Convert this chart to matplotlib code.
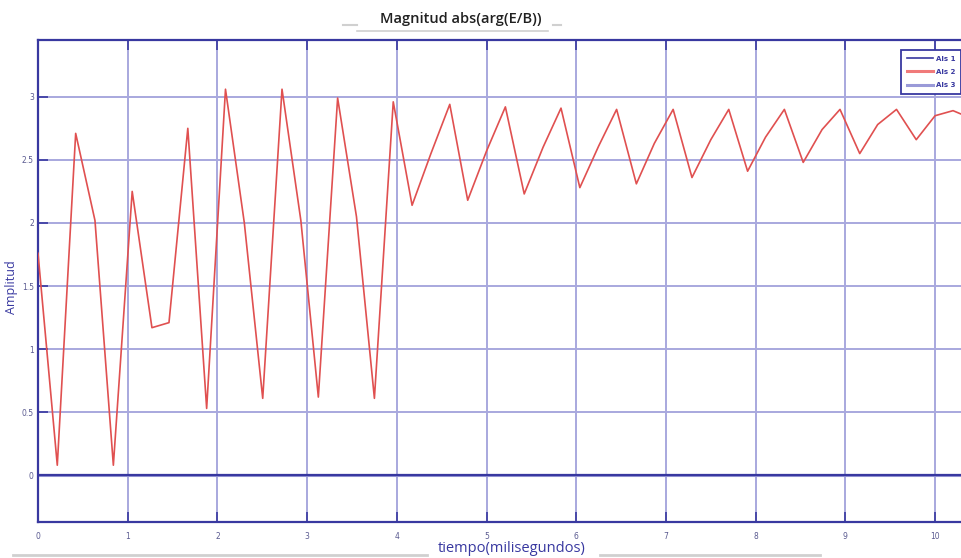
import numpy as np
import matplotlib
matplotlib.use("Agg")
import matplotlib.pyplot as plt
from matplotlib.lines import Line2D

# values
tiempo = [0, 0.215, 0.42, 0.635, 0.84, 1.05, 1.27, 1.46, 1.67, 1.88,
          2.09, 2.3, 2.505, 2.72, 2.93, 3.125, 3.34, 3.55, 3.75, 3.96,
          4.17, 4.38, 4.59, 4.79, 5.0, 5.21, 5.42, 5.63, 5.83, 6.04,
          6.25, 6.45, 6.67, 6.87, 7.08, 7.29, 7.5, 7.70, 7.91, 8.11,
          8.32, 8.53, 8.74, 8.94, 9.16, 9.36, 9.57, 9.79, 10.0, 10.2, 10.4]
als2 = [1.76, 0.08, 2.71, 2.02, 0.08, 2.25, 1.17, 1.21, 2.75, 0.53,
        3.06, 2.0, 0.61, 3.06, 2.02, 0.62, 2.99, 2.05, 0.61, 2.96,
        2.14, 2.55, 2.94, 2.18, 2.57, 2.92, 2.23, 2.6, 2.91, 2.28,
        2.61, 2.90, 2.31, 2.63, 2.90, 2.36, 2.66, 2.90, 2.41, 2.68,
        2.90, 2.48, 2.74, 2.90, 2.55, 2.78, 2.90, 2.66, 2.85, 2.89, 2.83]
als1 = [0.0] * len(tiempo)
als3 = [0.0] * len(tiempo)

x_ticks = list(range(0, 11))
y_ticks = [0, 0.5, 1, 1.5, 2, 2.5, 3]
y_tick_labels = ["0", "0.5", "1", "1.5", "2", "2.5", "3"]

navy = "#3838a0"
grid_col = "#a8a8de"
label_col = "#5a5a90"

W, H = 962, 558
fig = plt.figure(figsize=(W / 100, H / 100), dpi=100)
ax = fig.add_axes([38 / W, 1 - 522 / H, 1 - 38 / W, (522 - 40) / H])

ax.plot(tiempo, als3, color="#9a9ad8", lw=2.2, label="Als 3", zorder=2)
ax.plot(tiempo, als1, color=navy, lw=1.6, label="Als 1", zorder=3)
ax.plot(tiempo, als2, color="#e05050", lw=1.2, label="Als 2", zorder=4)

ax.set_xlim(0, 10.3)
ax.set_ylim(-0.37, 3.45)
ax.set_xticks(x_ticks)
ax.set_yticks(y_ticks)
ax.set_yticklabels(y_tick_labels)
ax.grid(True, color=grid_col, lw=1.4)
ax.set_axisbelow(True)

for side in ["left", "bottom", "top"]:
    ax.spines[side].set_color(navy)
    ax.spines[side].set_linewidth(1.6)
ax.spines["right"].set_visible(False)

ax.tick_params(axis="both", direction="in", length=7, width=1.2, color=navy,
               labelsize=5.5, labelcolor=label_col, top=True)
ax.tick_params(axis="x", pad=7)
ax.tick_params(axis="y", pad=3)

# legend in order Als 1, Als 2, Als 3
leg_handles = [Line2D([], [], color=navy, lw=1.2),
               Line2D([], [], color="#f07a7a", lw=2.2),
               Line2D([], [], color="#9a9ad8", lw=2.2)]
leg = ax.legend(leg_handles, ["Als 1", "Als 2", "Als 3"], loc="upper left",
                bbox_to_anchor=((901 - 38) / (W - 38), 1 - 10 / 482),
                bbox_transform=ax.transAxes, fontsize=5, handlelength=3.8,
                handletextpad=0.5, borderpad=0.8, labelspacing=1.05,
                borderaxespad=0, fancybox=False, framealpha=1)
leg.get_frame().set_edgecolor(navy)
leg.get_frame().set_linewidth(1.3)
for txt in leg.get_texts():
    txt.set_color(navy)
    txt.set_fontweight("bold")

# title, axis labels as figure text, with the light decorative rules
fig.text(461 / W, 1 - 19 / H, "Magnitud abs(arg(E/B))", ha="center", va="center",
         fontsize=10.5, color="#202020", fontfamily="Open Sans", fontweight="semibold")
fig.text(512 / W, 1 - 548 / H, "tiempo(milisegundos)", ha="center", va="center",
         fontsize=10.5, color=navy, fontfamily="Open Sans")
fig.text(12 / W, 1 - 287 / H, "Amplitud", ha="center", va="center", rotation=90,
         fontsize=9, color=navy, fontfamily="Open Sans")

rule = "#d0d0d0"
for (x0, x1, y, lw) in [(357, 548, 31, 1.2), (343, 357, 25, 1.5), (553, 561, 25, 1.5),
                        (13, 427, 555, 2.0), (600, 820, 555, 2.0)]:
    fig.add_artist(Line2D([x0 / W, x1 / W], [1 - y / H, 1 - y / H],
                          transform=fig.transFigure, color=rule, lw=lw))

fig.savefig("out.png", dpi=100)
